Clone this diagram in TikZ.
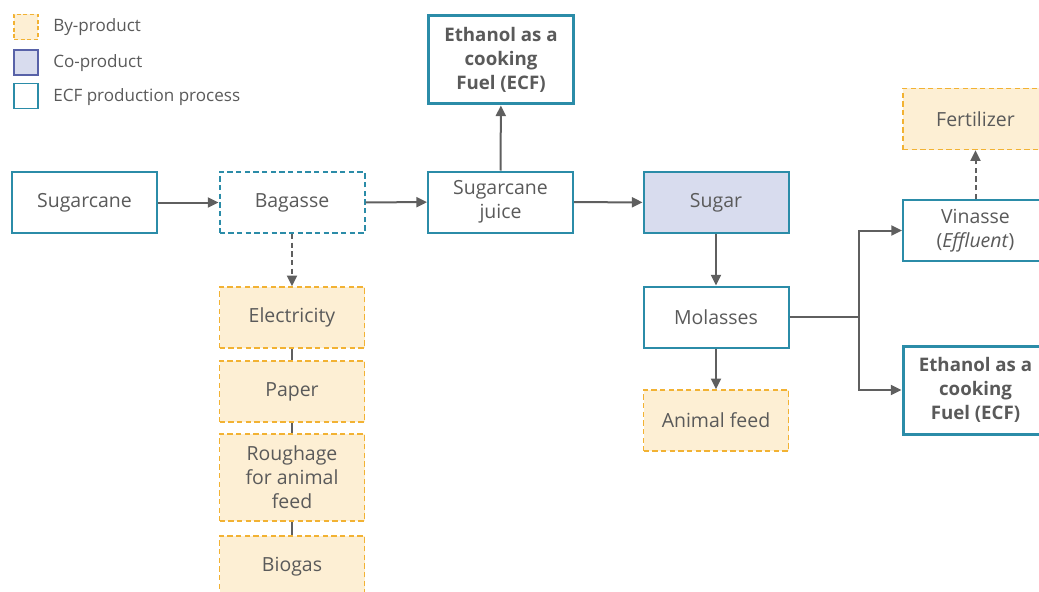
\documentclass[tikz,border=0pt]{standalone}
\usepackage{fontspec}
\setmainfont{Open Sans}
\usetikzlibrary{arrows.meta}
\definecolor{teal}{HTML}{2B8CA8}
\definecolor{byline}{HTML}{F2B233}
\definecolor{byfill}{HTML}{FDEFD4}
\definecolor{cofill}{HTML}{D8DCEE}
\definecolor{coline}{HTML}{5862A8}
\definecolor{txt}{HTML}{5A5A5A}
\definecolor{conn}{HTML}{5F5F5F}
\tikzset{
  base/.style={rectangle, inner sep=0pt, align=center, text=txt,
    font=\fontsize{14.6}{18}\selectfont, minimum width=108.75pt, minimum height=45.75pt},
  proc/.style={base, draw=teal, line width=1.5pt, fill=white},
  ecf/.style={base, draw=teal, line width=2.25pt, fill=white,
    font=\fontsize{14}{18}\selectfont\bfseries, minimum height=66pt},
  byprod/.style={base, draw=byline, fill=byfill, line width=1.2pt,
    dash pattern=on 4pt off 2.5pt},
  coprod/.style={base, draw=teal, fill=cofill, line width=1.5pt},
  residue/.style={base, draw=teal, fill=white, line width=1.5pt,
    dash pattern=on 4pt off 2.5pt},
  flow/.style={draw=conn, line width=1.5pt, -{Triangle[length=8pt, width=7.5pt]}},
  link/.style={draw=conn, line width=1.5pt},
  legtxt/.style={anchor=west, inner sep=0pt, text=txt, font=\fontsize{12.8}{15}\selectfont},
  legbox/.style={rectangle, inner sep=0pt, minimum width=18pt, minimum height=19pt, line width=1.2pt}
}
\begin{document}
\begin{tikzpicture}[x=0.75pt, y=-0.75pt]
\useasboundingbox (0,0) rectangle (1039,592);

% legend
\node[legbox, draw=byline, fill=byfill, dash pattern=on 3pt off 2pt] (lb) at (26,27) {};
\node[legbox, draw=coline, fill=cofill] (lc) at (26,62.5) {};
\node[legbox, draw=teal, fill=white] (le) at (26,96) {};
\node[legtxt] (tb) at (53,27) {By-product};
\node[legtxt] (tc) at (53,63) {Co-product};
\node[legtxt] (te) at (53,97) {ECF production process};

% main line
\node[proc] (cane) at (84.5,202.5) {Sugarcane};
\node[residue] (bag) at (292,202.5) {Bagasse};
\node[proc] (juice) at (500.5,202) {Sugarcane\\juice};
\node[ecf] (ecftop) at (501,60) {Ethanol as a\\cooking\\Fuel (ECF)};
\node[coprod] (sugar) at (716,202.5) {Sugar};
\node[proc] (mol) at (716,317) {Molasses};
\node[byprod] (feed) at (716,420.5) {Animal feed};
\node[proc] (vin) at (975.5,230.5) {Vinasse\\(\textit{Effluent})};
\node[ecf] (ecfright) at (975.5,390) {Ethanol as a\\cooking\\Fuel (ECF)};
\node[byprod] (fert) at (975.5,119) {Fertilizer};

% bagasse by-products
\node[byprod] (elec) at (292,317.5) {Electricity};
\node[byprod] (paper) at (292,391.5) {Paper};
\node[byprod, minimum height=65.25pt] (rough) at (292,477.5) {Roughage\\for animal\\feed};
\node[byprod] (biogas) at (292,566.5) {Biogas};

% connectors
\draw[flow] (cane) -- (bag);
\draw[flow] (bag) -- (juice);
\draw[flow] (juice) -- (sugar);
\draw[flow] (juice) -- (ecftop);
\draw[flow, dash pattern=on 4pt off 2.5pt] (bag) -- (elec);
\draw[link] (elec) -- (paper);
\draw[link] (paper) -- (rough);
\draw[link] (rough) -- (biogas);
\draw[flow] (sugar) -- (mol);
\draw[flow] (mol) -- (feed);
\coordinate (split) at (859,317);
\draw[link] (mol.east) -- (split);
\draw[flow] (split) |- (vin.west);
\draw[flow] (split) |- (ecfright.west);
\draw[flow, dash pattern=on 4pt off 2.5pt] (vin) -- (fert);
\end{tikzpicture}
\end{document}
